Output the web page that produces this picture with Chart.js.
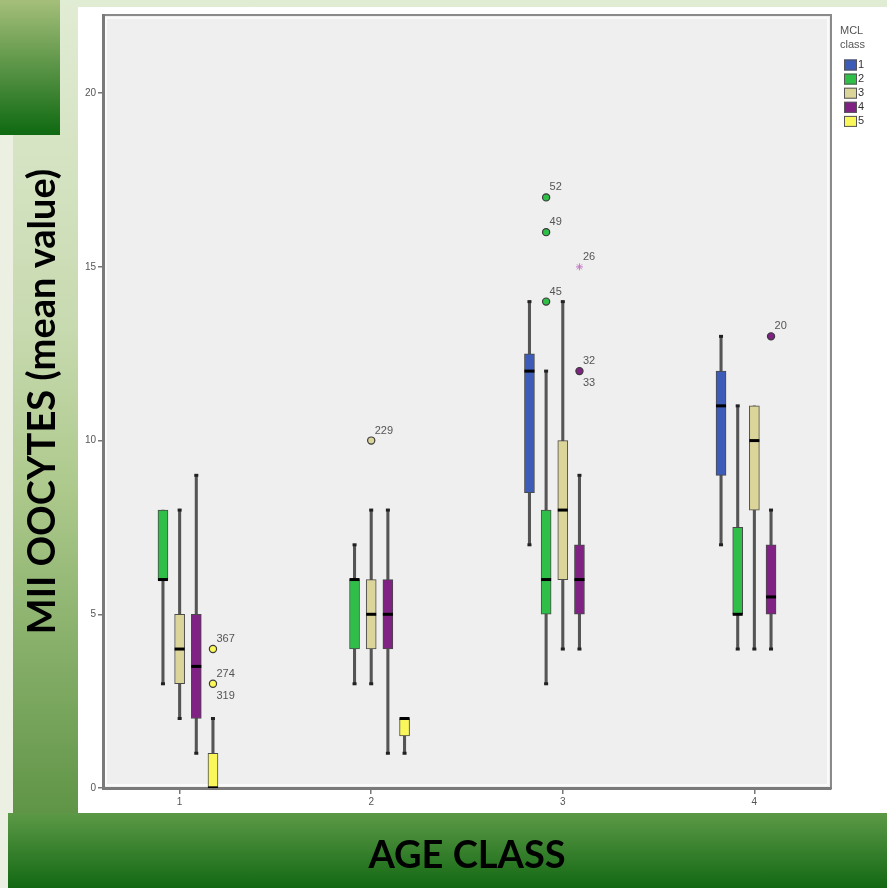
<!DOCTYPE html>
<html>
<head>
<meta charset="utf-8">
<title>MII oocytes by age class and MCL class</title>
<script src="https://cdn.jsdelivr.net/npm/chart.js@4.4.1/dist/chart.umd.min.js"></script>
<style>
  html, body { margin: 0; padding: 0; }
  body { width: 887px; height: 888px; position: relative; overflow: hidden; background: #ecf0e2; }
  .bg { position: absolute; }
  #band { left: 13px; top: 0; width: 874px; height: 815px;
          background: linear-gradient(#e1ecd4 0%, #c8dab0 40%, #adc98c 60%, #5f9446 100%); }
  #corner { left: 0; top: 0; width: 60px; height: 135px; background: linear-gradient(#a5bf7a, #0e6911); }
  #panel { left: 78px; top: 7px; width: 809px; height: 806px; background: #ffffff; }
  #foot { left: 8px; top: 813px; width: 879px; height: 75px; background: linear-gradient(#5c9947, #136813); }
  canvas { position: absolute; left: 0; top: 0; }
</style>
</head>
<body>
<div class="bg" id="band"></div>
<div class="bg" id="corner"></div>
<div class="bg" id="panel"></div>
<div class="bg" id="foot"></div>
<canvas id="chart" width="887" height="888"></canvas>
<script>
// Age classes on the x axis and MCL classes grouped inside each one
const ageClasses = [1, 2, 3, 4];
const mclClasses = ['1', '2', '3', '4', '5'];
const mclColors = ['#3d5cb8', '#2fbf49', '#dcd59a', '#7f2283', '#f9f75a'];

// Box statistics per age class: [lower whisker, Q1, median, Q3, upper whisker]
const mcl1Stats = [null, null, [7, 8.5, 12, 12.5, 14], [7, 9, 11, 12, 13]];
const mcl2Stats = [[3, 6, 6, 8, 8], [3, 4, 6, 6, 7], [3, 5, 6, 8, 12], [4, 5, 5, 7.5, 11]];
const mcl3Stats = [[2, 3, 4, 5, 8], [3, 4, 5, 6, 8], [4, 6, 8, 10, 14], [4, 8, 10, 11, 11]];
const mcl4Stats = [[1, 2, 3.5, 5, 9], [1, 4, 5, 6, 8], [4, 5, 6, 7, 9], [4, 5, 5.5, 7, 8]];
const mcl5Stats = [[0, 0, 0, 1, 2], [1, 1.5, 2, 2, 2], null, null];

// Outlying cases
const outlierAge = [1, 1, 2, 3, 3, 3, 3, 3, 4];
const outlierClass = [5, 5, 3, 2, 2, 2, 4, 4, 4];
const outlierValue = [4, 3, 10, 17, 16, 14, 15, 12, 13];
const outlierCaseAbove = ['367', '274', '229', '52', '49', '45', '26', '32', '20'];
const outlierCaseBelow = ['', '319', '', '', '', '', '', '33', ''];
const outlierExtreme = [false, false, false, false, false, false, true, false, false];

const yTickValues = [0, 5, 10, 15, 20];

const statsByClass = [mcl1Stats, mcl2Stats, mcl3Stats, mcl4Stats, mcl5Stats];
const SLOT = 0.087; // spacing between the MCL boxes, in age-class units
const xOf = (age, k) => age + (k - 2) * SLOT;

const titleFont = 'Lato, "Liberation Sans", Arial, sans-serif';
const smallFont = '"Liberation Sans", Arial, sans-serif';

const datasets = [];
statsByClass.forEach((stats, k) => {
  const pts = [];
  stats.forEach((s, i) => { if (s) pts.push({ x: xOf(ageClasses[i], k), s }); });

  // whisker line
  datasets.push({
    type: 'bar', label: 'w' + k, grouped: false, barThickness: 2.4, order: 4,
    backgroundColor: '#555555', borderWidth: 0,
    data: pts.map(p => ({ x: p.x, y: [p.s[0], p.s[4]] }))
  });
  // box from Q1 to Q3
  datasets.push({
    type: 'bar', label: mclClasses[k], isBox: true, grouped: false, barThickness: 10, order: 3,
    backgroundColor: mclColors[k], borderColor: '#4a4a4a', borderWidth: 1, borderSkipped: false,
    data: pts.map(p => ({ x: p.x, y: [p.s[1], p.s[3]] }))
  });
  // whisker caps, only where the whisker extends past the box
  const caps = [];
  pts.forEach(p => {
    if (p.s[0] < p.s[1]) caps.push({ x: p.x, y: p.s[0] });
    if (p.s[4] > p.s[3]) caps.push({ x: p.x, y: p.s[4] });
  });
  datasets.push({
    type: 'scatter', label: 'c' + k, order: 2, data: caps,
    pointStyle: 'line', pointRadius: 2, borderWidth: 3, borderColor: '#222222'
  });
  // median
  datasets.push({
    type: 'scatter', label: 'm' + k, order: 1,
    data: pts.map(p => ({ x: p.x, y: p.s[2] })),
    pointStyle: 'line', pointRadius: 5, borderWidth: 3, borderColor: '#000000'
  });
});

datasets.push({
  type: 'scatter', label: 'outliers', order: 0,
  data: outlierAge.map((a, i) => ({ x: xOf(a, outlierClass[i] - 1), y: outlierValue[i] })),
  pointStyle: outlierExtreme.map(e => e ? 'star' : 'circle'),
  pointRadius: outlierExtreme.map(e => e ? 3.5 : 3.6),
  backgroundColor: outlierClass.map(c => mclColors[c - 1]),
  borderColor: outlierExtreme.map(e => e ? '#c27ac4' : '#3a3a3a'),
  borderWidth: outlierExtreme.map(e => e ? 1 : 1.2)
});

// grey plotting area with a frame around it
const plotFrame = {
  id: 'plotFrame',
  beforeDraw(chart) {
    const { ctx, chartArea: a } = chart;
    ctx.save();
    ctx.fillStyle = '#efefef';
    ctx.fillRect(a.left, a.top, a.right - a.left, a.bottom - a.top);
    ctx.strokeStyle = '#fafafa';
    ctx.lineWidth = 2;
    ctx.strokeRect(a.left + 3, a.top + 3, a.right - a.left - 6, a.bottom - a.top - 6);
    ctx.strokeStyle = '#8a8a8a';
    ctx.lineWidth = 2;
    ctx.strokeRect(a.left, a.top, a.right - a.left, a.bottom - a.top);
    ctx.restore();
  }
};

// case numbers next to the outlying points
const caseLabels = {
  id: 'caseLabels',
  afterDatasetsDraw(chart) {
    const { ctx, scales: { x, y } } = chart;
    ctx.save();
    ctx.fillStyle = '#555555';
    ctx.font = '11px ' + smallFont;
    ctx.textBaseline = 'middle';
    ctx.textAlign = 'left';
    outlierAge.forEach((a, i) => {
      const px = x.getPixelForValue(xOf(a, outlierClass[i] - 1));
      const py = y.getPixelForValue(outlierValue[i]);
      if (outlierCaseAbove[i]) ctx.fillText(outlierCaseAbove[i], px + 3.5, py - 10);
      if (outlierCaseBelow[i]) ctx.fillText(outlierCaseBelow[i], px + 3.5, py + 12);
    });
    ctx.restore();
  }
};

// MCL class legend to the right of the plot
const mclLegend = {
  id: 'mclLegend',
  afterDraw(chart) {
    const { ctx, chartArea: a } = chart;
    const x0 = a.right + 9;
    ctx.save();
    ctx.textBaseline = 'middle';
    ctx.textAlign = 'left';
    ctx.fillStyle = '#555555';
    ctx.font = '11px ' + smallFont;
    ctx.fillText('MCL', x0, 31);
    ctx.fillText('class', x0, 45);
    chart.data.datasets.filter(d => d.isBox).forEach((d, i) => {
      const cy = 65 + i * 14.1;
      ctx.fillStyle = d.backgroundColor;
      ctx.fillRect(x0 + 4, cy - 5.5, 13, 11);
      ctx.strokeStyle = '#555555';
      ctx.lineWidth = 1;
      ctx.strokeRect(x0 + 4.5, cy - 5, 12, 10);
      ctx.fillStyle = '#333333';
      ctx.fillText(d.label, x0 + 18, cy);
    });
    ctx.restore();
  }
};

new Chart(document.getElementById('chart'), {
  type: 'bar',
  data: { datasets },
  plugins: [plotFrame, caseLabels, mclLegend],
  options: {
    responsive: false,
    animation: false,
    events: [],
    layout: { padding: { left: 0, top: 15, right: 56, bottom: 0 } },
    plugins: { legend: { display: false }, tooltip: { enabled: false } },
    scales: {
      x: {
        type: 'linear', min: 0.6, max: 4.4, offset: false,
        afterBuildTicks: s => { s.ticks = ageClasses.map(v => ({ value: v })); },
        afterFit: s => { s.height = 100; },
        ticks: { color: '#555555', font: { family: smallFont, size: 10 }, padding: 2,
                 callback: v => String(v) },
        grid: { offset: false, drawOnChartArea: false, tickLength: 6, color: '#777777', lineWidth: 1.5 },
        border: { color: '#7a7a7a', width: 3 },
        title: { display: true, text: 'AGE CLASS', color: '#000000',
                 font: { family: titleFont, size: 38, weight: 'bold' },
                 padding: { top: 0, bottom: 9 } }
      },
      y: {
        type: 'linear', min: 0, max: 22.25,
        afterBuildTicks: s => { s.ticks = yTickValues.map(v => ({ value: v })); },
        afterFit: s => { s.width = 103; },
        ticks: { color: '#555555', font: { family: smallFont, size: 10 }, padding: 2 },
        grid: { drawOnChartArea: false, tickLength: 5, color: '#777777', lineWidth: 1.5 },
        border: { color: '#7a7a7a', width: 3 },
        title: { display: true, text: 'MII OOCYTES (mean value)', color: '#000000',
                 font: { family: titleFont, size: 38, weight: 'bold' },
                 padding: { top: 20, bottom: 0 } }
      }
    }
  }
});
</script>
</body>
</html>
